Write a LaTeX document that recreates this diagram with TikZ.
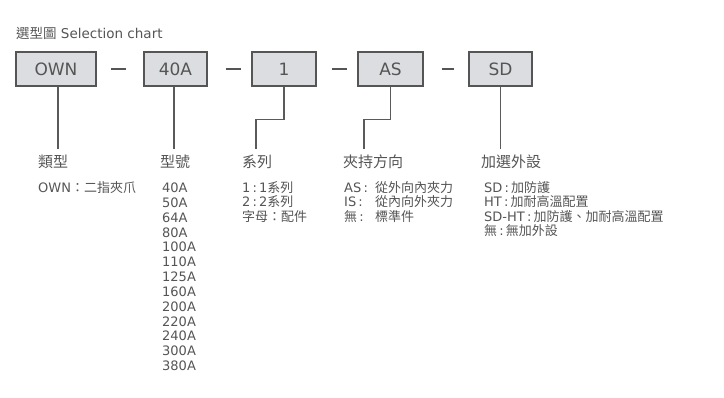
\documentclass[tikz,border=0pt]{standalone}
\usepackage{fontspec}
\setmainfont{DejaVu Sans}
\newfontfamily\cjk{Noto Sans CJK TC}
\definecolor{txt}{HTML}{555555}
\definecolor{boxfill}{HTML}{DCDDE0}
\definecolor{boxline}{HTML}{555555}
\definecolor{ln}{HTML}{5A5A5A}
\begin{document}
\begin{tikzpicture}[x=1pt,y=-1pt,
  every node/.style={inner sep=0pt, text=txt},
  selbox/.style={draw=boxline, fill=boxfill, line width=1.4pt, minimum height=34pt, font=\fontsize{17}{19}\selectfont},
  link/.style={draw=ln, line width=1.2pt},
  dashmark/.style={fill=txt, minimum width=15pt, minimum height=1.2pt},
  hdr/.style={anchor=base west, font=\cjk\fontsize{15}{17}\selectfont},
  body/.style={anchor=base west, font=\fontsize{13}{15}\selectfont}]
\useasboundingbox (0,0) rectangle (724,398);
\fill[white] (0,0) rectangle (724,398);

% title
\node[anchor=base west, font=\fontsize{13.5}{16}\selectfont] (title) at (16,39) {{\cjk 選型圖} Selection chart};

% boxes
\node[selbox, minimum width=80pt] (own) at (56,69) {OWN};
\node[selbox, minimum width=63pt] (b40) at (175.5,69) {40A};
\node[selbox, minimum width=64pt] (b1) at (284,69) {1};
\node[selbox, minimum width=65pt] (bas) at (390.5,69) {AS};
\node[selbox, minimum width=63pt] (bsd) at (500.5,69) {SD};

% separators
\node[dashmark] (d1) at (118,69) {};
\node[dashmark] (d2) at (233,69) {};
\node[dashmark] (d3) at (339.5,69) {};
\node[dashmark, minimum width=12pt] (d4) at (448,69) {};

% headers
\node[hdr] (h1) at (38,167.7) {類型};
\node[hdr] (h2) at (160,167.7) {型號};
\node[hdr] (h3) at (242,167.7) {系列};
\node[hdr] (h4) at (343,167.7) {夾持方向};
\node[hdr] (h5) at (481,167.7) {加選外設};

% connectors
\coordinate (e1) at (58,149);
\coordinate (e2) at (174,149);
\coordinate (e3) at (256,149);
\coordinate (e4) at (364,149);
\coordinate (e5) at (500.5,149);
\draw[link] (own.south -| e1) -- (e1);
\draw[link] (b40.south -| e2) -- (e2);
\draw[link] (b1.south) -- ++(0,33) -| (e3);
\draw[link] (bas.south) -- ++(0,33) -| (e4);
\draw[link] (bsd.south) -- (e5);

% body: type
\node[body] (t1) at (38,192.5) {OWN{\cjk ：二指夾爪}};

% body: models
\foreach \t [count=\i from 0] in {40A,50A,64A,80A,100A,110A,125A,160A,200A,220A,240A,300A,380A}
  \node[body] (m\i) at (162,{192.5+14.85*\i}) {\t};

% body: series
\node[body] (s1) at (242,192.5) {1\,:\,1{\cjk 系列}};
\node[body] (s2) at (242,206.8) {2\,:\,2{\cjk 系列}};
\node[body] (s3) at (242,221.1) {{\cjk 字母：配件}};

% body: direction
\node[body] (g1) at (344,192.5) {\makebox[31pt][l]{AS\,:}{\cjk 從外向內夾力}};
\node[body] (g2) at (344,206.8) {\makebox[31pt][l]{IS\,:}{\cjk 從內向外夾力}};
\node[body] (g3) at (344,221.1) {\makebox[31pt][l]{{\cjk 無}\,:}{\cjk 標準件}};

% body: options
\node[body] (o1) at (484,192.5) {SD\,:\,{\cjk 加防護}};
\node[body] (o2) at (484,206.8) {HT\,:\,{\cjk 加耐高溫配置}};
\node[body] (o3) at (484,221.1) {SD-HT\,:\,{\cjk 加防護、加耐高溫配置}};
\node[body] (o4) at (484,235.4) {{\cjk 無}\,:\,{\cjk 無加外設}};
\end{tikzpicture}
\end{document}
